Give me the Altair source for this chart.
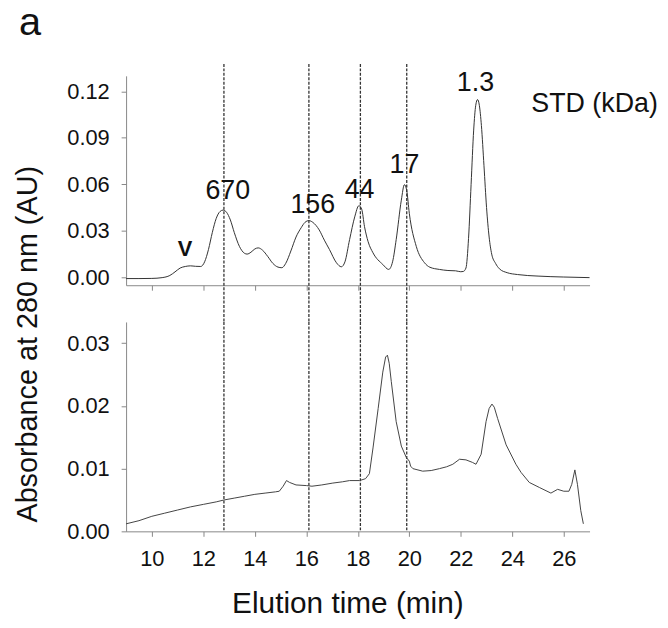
import altair as alt
import pandas as pd

# ---- data ----
top_time = [9.0, 9.5, 10.0, 10.4, 10.7, 10.9, 11.1, 11.3, 11.5, 11.7, 11.9, 12.05, 12.2, 12.35, 12.5,
            12.65, 12.77, 12.9, 13.05, 13.2, 13.4, 13.6, 13.7, 13.85, 14.0, 14.13, 14.3, 14.5, 14.7,
            14.9, 15.05, 15.2, 15.4, 15.6, 15.8, 15.95, 16.1, 16.25, 16.5, 16.7, 16.9, 17.17, 17.36,
            17.5, 17.68, 17.88, 18.04, 18.15, 18.26, 18.4, 18.59, 18.97, 19.2, 19.35, 19.49, 19.69,
            19.81, 19.9, 20.0, 20.27, 20.59, 20.8, 21.17, 21.5, 21.8, 22.0, 22.1, 22.2, 22.3, 22.4,
            22.5, 22.58, 22.65, 22.72, 22.8, 22.9, 23.0, 23.1, 23.2, 23.35, 23.5, 23.8, 24.2, 25.0,
            26.0, 27.0]
top_abs = [-0.0008, -0.0008, -0.0007, -0.0002, 0.0012, 0.0035, 0.0060, 0.0070, 0.0074, 0.0071, 0.0070,
           0.0100, 0.0180, 0.0290, 0.0380, 0.0425, 0.0434, 0.0420, 0.0370, 0.0290, 0.0200, 0.0155,
           0.0150, 0.0162, 0.0183, 0.0190, 0.0175, 0.0135, 0.0090, 0.0066, 0.0062, 0.0090, 0.0170,
           0.0260, 0.0320, 0.0355, 0.0366, 0.0355, 0.0306, 0.0240, 0.0179, 0.0094, 0.0068, 0.0100,
           0.0243, 0.0390, 0.0462, 0.0440, 0.0327, 0.0230, 0.0158, 0.0083, 0.0051, 0.0100, 0.0243,
           0.0498, 0.0598, 0.0560, 0.0413, 0.0200, 0.0094, 0.0065, 0.0051, 0.0044, 0.0042, 0.0036,
           0.0038, 0.0060, 0.0250, 0.0600, 0.0950, 0.1110, 0.1147, 0.1110, 0.0980, 0.0720, 0.0450,
           0.0260, 0.0150, 0.0090, 0.0055, 0.0030, 0.0018, 0.0008, 0.0002, -0.0002]

bot_time = [9.0, 9.5, 10.0, 10.5, 11.0, 11.5, 12.0, 12.5, 12.8, 13.2, 13.6, 14.0, 14.4, 14.8, 14.95,
            15.1, 15.23, 15.35, 15.6, 16.0, 16.22, 16.6, 17.03, 17.4, 17.68, 18.07, 18.3, 18.45,
            18.59, 18.79, 18.97, 19.08, 19.15, 19.22, 19.3, 19.49, 19.69, 19.88, 20.0, 20.05, 20.14,
            20.52, 20.85, 21.17, 21.45, 21.69, 21.95, 22.2, 22.45, 22.59, 22.79, 22.98, 23.1, 23.21,
            23.3, 23.43, 23.76, 24.14, 24.34, 24.66, 25.05, 25.5, 25.76, 26.0, 26.2, 26.31, 26.43,
            26.53, 26.66, 26.76]
bot_abs = [0.0012, 0.0017, 0.0024, 0.0029, 0.0034, 0.0039, 0.0043, 0.0047, 0.0050, 0.0053, 0.0056,
           0.0059, 0.0061, 0.0063, 0.0064, 0.0072, 0.0081, 0.0078, 0.0074, 0.0073, 0.0072, 0.0074,
           0.0077, 0.0079, 0.0081, 0.0081, 0.0084, 0.0092, 0.0133, 0.0196, 0.0254, 0.0278, 0.0281,
           0.0268, 0.0239, 0.0175, 0.0136, 0.0118, 0.0112, 0.0104, 0.0100, 0.0096, 0.0097, 0.0100,
           0.0103, 0.0107, 0.0115, 0.0114, 0.0110, 0.0107, 0.0123, 0.0175, 0.0196, 0.0203, 0.0198,
           0.0180, 0.0138, 0.0107, 0.0094, 0.0078, 0.0070, 0.0061, 0.0067, 0.0064, 0.0064, 0.0075,
           0.0098, 0.0075, 0.0033, 0.0012]

std_times = [12.8, 16.1, 18.1, 19.9]

peak_labels = ["670", "156", "44", "17", "1.3"]
peak_label_x = [12.95, 16.25, 18.07, 19.81, 22.57]
peak_label_y = [0.0504, 0.0415, 0.0515, 0.0672, 0.120]

void_label = ["V"]
void_x = [11.29]
void_y = [0.0136]

std_label = ["STD (kDa)"]
std_x = [24.74]
std_y = [0.1066]

panel_label = ["a"]

top_ticks = [0, 0.03, 0.06, 0.09, 0.12]
bot_ticks = [0, 0.01, 0.02, 0.03]
x_ticks = [10, 12, 14, 16, 18, 20, 22, 24, 26]

FONT = "Liberation Sans"
W, H, GAP = 467, 211, 37

top_df = pd.DataFrame({"t": top_time, "a": top_abs})
bot_df = pd.DataFrame({"t": bot_time, "a": bot_abs})
rule_df = pd.DataFrame({"t": std_times})
lab_df = pd.DataFrame({"t": peak_label_x, "a": peak_label_y, "txt": peak_labels})
v_df = pd.DataFrame({"t": void_x, "a": void_y, "txt": void_label})
std_df = pd.DataFrame({"t": std_x, "a": std_y, "txt": std_label})
a_df = pd.DataFrame({"txt": panel_label})

xscale = alt.Scale(domain=[9, 27], nice=False, zero=False)
top_y = alt.Scale(domain=[-0.0051, 0.13], nice=False, zero=False)
bot_y = alt.Scale(domain=[0, 0.0334], nice=False, zero=False)

top_x_axis = alt.Axis(values=x_ticks, labels=False, title=None)
top_y_axis = alt.Axis(values=top_ticks, format=".2f", title=None)

top_line = alt.Chart(top_df).mark_line(color="#333333", strokeWidth=1.0, interpolate="monotone").encode(
    x=alt.X("t:Q", scale=xscale, axis=top_x_axis),
    y=alt.Y("a:Q", scale=top_y, axis=top_y_axis),
)
top_rules = alt.Chart(rule_df).mark_rule(color="#333333", strokeWidth=1.3, strokeDash=[3, 1.5]).encode(
    x=alt.X("t:Q", scale=xscale), y=alt.value(-12), y2=alt.value(H + GAP)
)
top_labels = alt.Chart(lab_df).mark_text(font=FONT, fontSize=27, color="#111111", align="center",
                                         baseline="alphabetic").encode(
    x=alt.X("t:Q", scale=xscale), y=alt.Y("a:Q", scale=top_y), text="txt:N"
)
v_label = alt.Chart(v_df).mark_text(font=FONT, fontSize=22, fontWeight="bold", color="#111111",
                                    align="center", baseline="alphabetic").encode(
    x=alt.X("t:Q", scale=xscale), y=alt.Y("a:Q", scale=top_y), text="txt:N"
)
std_text = alt.Chart(std_df).mark_text(font=FONT, fontSize=27, color="#111111", align="left",
                                       baseline="alphabetic").encode(
    x=alt.X("t:Q", scale=xscale), y=alt.Y("a:Q", scale=top_y), text="txt:N"
)
a_text = alt.Chart(a_df).mark_text(font=FONT, fontSize=40, color="#111111", align="left",
                                   baseline="alphabetic").encode(
    x=alt.value(-108), y=alt.value(-41), text="txt:N"
)

top = alt.layer(top_rules, top_line, top_labels, v_label, std_text, a_text).properties(width=W, height=H)

bot_x_axis = alt.Axis(values=x_ticks, format="d", title="Elution time (min)", titleX=223, titleY=82,
                      titleBaseline="alphabetic", titleAlign="center", titleFontSize=30)
bot_y_axis = alt.Axis(values=bot_ticks, format=".2f", title="Absorbance at 280 nm (AU)", titleAngle=270,
                      titleX=-90, titleY=22, titleBaseline="alphabetic", titleAlign="center",
                      titleFontSize=29)

bot_line = alt.Chart(bot_df).mark_line(color="#444444", strokeWidth=1.0).encode(
    x=alt.X("t:Q", scale=xscale, axis=bot_x_axis),
    y=alt.Y("a:Q", scale=bot_y, axis=bot_y_axis),
)
bot_rules = alt.Chart(rule_df).mark_rule(color="#333333", strokeWidth=1.3, strokeDash=[3, 1.5]).encode(
    x=alt.X("t:Q", scale=xscale), y=alt.value(0), y2=alt.value(H)
)
bottom = alt.layer(bot_rules, bot_line).properties(width=W, height=H)

chart = alt.vconcat(top, bottom, spacing=GAP, bounds="flush").properties(
    padding={"left": 5, "top": -7, "right": 2, "bottom": 2}
).configure_view(stroke=None).configure_axis(
    grid=False, domainColor="#888888", tickColor="#888888", tickSize=5, labelFont=FONT,
    labelFontSize=22, labelColor="#111111", labelPadding=12, titleFont=FONT, titleColor="#111111",
    titleFontWeight="normal", domainWidth=1, tickWidth=1
)

chart.save("out.html", embed_options={"renderer": "svg", "actions": False})
